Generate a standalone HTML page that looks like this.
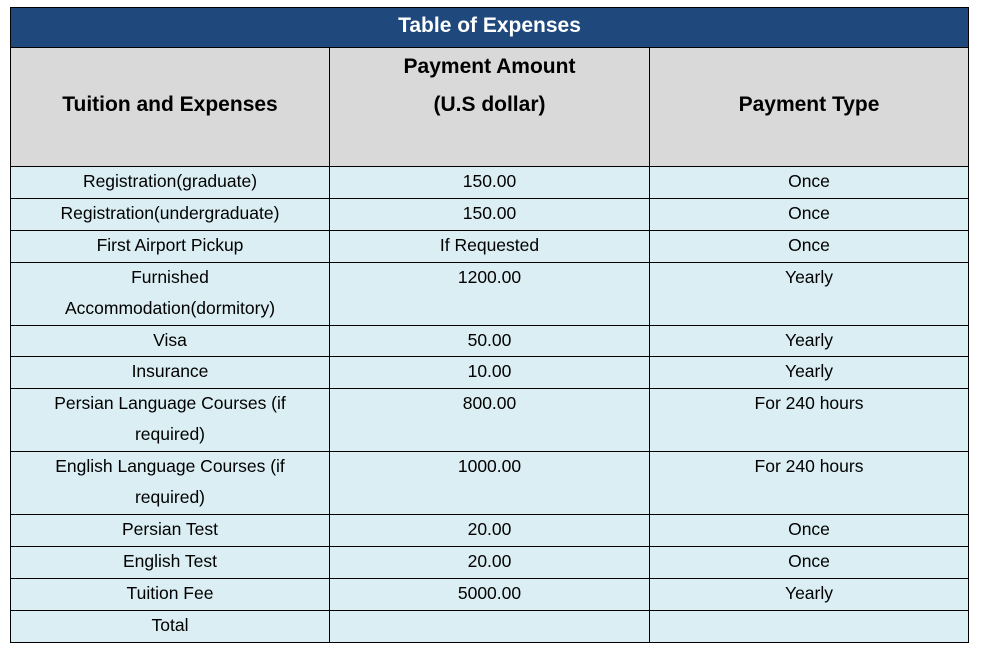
<!DOCTYPE html><html><head><style>
body{margin:0;width:983px;height:652px;background:#fff;position:relative;font-family:"Liberation Sans",sans-serif;overflow:hidden}
.c{position:absolute;box-sizing:border-box;border:1px solid #000;text-align:center;color:#000}
.t{background:#1f497d;color:#fff;font-weight:bold;font-size:21px;line-height:36px}
.h{background:#d9d9d9;font-weight:bold;font-size:21px;line-height:38px}
.r{background:#daeef3;font-size:17.5px;line-height:31px;padding-top:0}
.r span{position:relative;top:-1px}
</style></head><body>
<div class="c t" style="left:10px;top:7px;width:959px;height:41px">Table of Expenses</div>
<div class="c h" style="left:10px;top:47px;width:320px;height:120px;padding-top:38px">Tuition and Expenses</div>
<div class="c h" style="left:329px;top:47px;width:321px;height:120px">Payment Amount<br>(U.S dollar)</div>
<div class="c h" style="left:649px;top:47px;width:320px;height:120px;padding-top:38px">Payment Type</div>
<div id="rows"></div>
<script>
var d=[[166,198,"Registration(graduate)","150.00","Once"],[198,230,"Registration(undergraduate)","150.00","Once"],[230,262,"First Airport Pickup","If Requested","Once"],[262,325,"Furnished<br>Accommodation(dormitory)","1200.00","Yearly"],[325,356,"Visa","50.00","Yearly"],[356,388,"Insurance","10.00","Yearly"],[388,451,"Persian Language Courses (if<br>required)","800.00","For 240 hours"],[451,514,"English Language Courses (if<br>required)","1000.00","For 240 hours"],[514,546,"Persian Test","20.00","Once"],[546,578,"English Test","20.00","Once"],[578,610,"Tuition Fee","5000.00","Yearly"],[610,642,"Total","",""]];
var xs=[[10,320],[329,321],[649,320]],h="";
d.forEach(function(r){for(var i=0;i<3;i++)h+='<div class="c r" style="left:'+xs[i][0]+'px;top:'+r[0]+'px;width:'+xs[i][1]+'px;height:'+(r[1]-r[0]+1)+'px"><span>'+r[2+i]+'</span></div>';});
document.getElementById("rows").outerHTML=h;
</script>
</body></html>
